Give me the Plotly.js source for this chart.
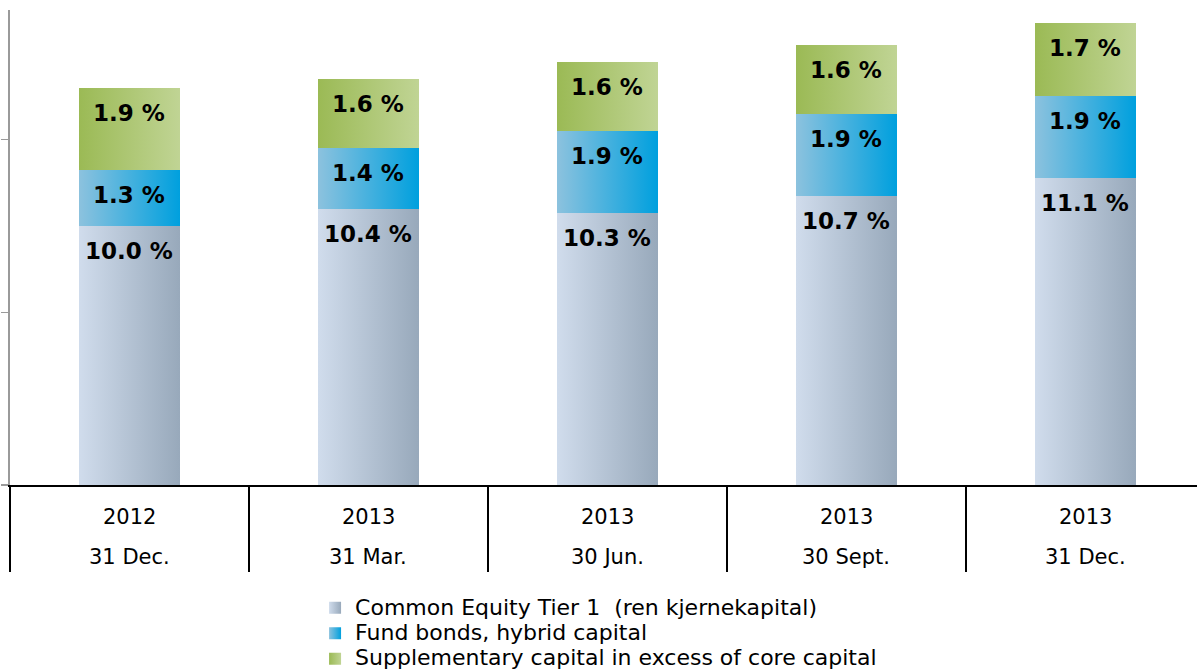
<!DOCTYPE html>
<html>
<head>
<meta charset="utf-8">
<script src="https://cdn.plot.ly/plotly-3.0.1.min.js"></script>
<style>
html,body{margin:0;padding:0;background:#fff;}
#chart{width:1197px;height:672px;}
</style>
</head>
<body>
<div id="chart"></div>
<script>
// ---- data ----
const periods = ["2012<br>31 Dec.", "2013<br>31 Mar.", "2013<br>30 Jun.", "2013<br>30 Sept.", "2013<br>31 Dec."];
const yearLabels = ["2012", "2013", "2013", "2013", "2013"];
const dateLabels = ["31 Dec.", "31 Mar.", "30 Jun.", "30 Sept.", "31 Dec."];
const seriesNames = ["Common Equity Tier 1  (ren kjernekapital)", "Fund bonds, hybrid capital", "Supplementary capital in excess of core capital"];
const cet1 = [10.0, 10.4, 10.3, 10.7, 11.1];
const fundBonds = [1.3, 1.4, 1.9, 1.9, 1.9];
const supplementary = [1.9, 1.6, 1.6, 1.6, 1.7];

const seriesValues = [cet1, fundBonds, supplementary];
const solidColors = ["#b5c3d3", "#4fb0dc", "#adc670"];
const gradStops = [["#d0dcec", "#98a9bb"], ["#8cc2de", "#00a0de"], ["#9bba55", "#c0d494"]];

const font = "DejaVu Sans, Verdana, sans-serif";

const traces = seriesValues.map((vals, i) => ({
  type: "bar",
  name: '<span style="font-size:22px">' + seriesNames[i].replace(/  /g, " &nbsp;") + '</span>',
  x: periods,
  y: vals,
  marker: {color: solidColors[i], line: {width: 0}},
  hoverinfo: "skip"
}));

// value labels placed just below the top of each segment
const annotations = [];
const cum = periods.map(() => 0);
seriesValues.forEach((vals) => {
  vals.forEach((v, j) => {
    cum[j] += v;
    annotations.push({
      x: periods[j], y: cum[j], xref: "x", yref: "y",
      text: v.toFixed(1) + " %", showarrow: false,
      yanchor: "middle", yshift: -25,
      font: {family: font, size: 23, color: "#000", weight: "bold"}
    });
  });
});
periods.forEach((p, j) => {
  annotations.push({x: p, y: -0.067, xref: "x", yref: "paper", text: yearLabels[j], showarrow: false,
    yanchor: "middle", font: {family: font, size: 21, color: "#000"}});
  annotations.push({x: p, y: -0.152, xref: "x", yref: "paper", text: dateLabels[j], showarrow: false,
    yanchor: "middle", font: {family: font, size: 21, color: "#000"}});
});

const layout = {
  width: 1197, height: 672,
  margin: {l: 10, r: 0, t: 10, b: 187, pad: 0},
  paper_bgcolor: "#fff", plot_bgcolor: "#fff",
  barmode: "stack",
  bargap: 0.58,
  font: {family: font, color: "#000"},
  showlegend: true,
  legend: {
    orientation: "v", x: 0.257, xanchor: "left", xref: "paper",
    y: 0.122, yanchor: "top", yref: "container",
    traceorder: "normal", font: {family: font, size: 17.3, color: "#000"},
    bgcolor: "rgba(0,0,0,0)", itemclick: false
  },
  xaxis: {
    type: "category", range: [-0.5, 4.467], fixedrange: true, automargin: false,
    showline: true, linecolor: "#000", linewidth: 1.5,
    ticks: "outside", tickson: "boundaries", ticklen: 85, tickcolor: "#000", tickwidth: 1.5,
    showticklabels: false, showgrid: false, zeroline: false
  },
  yaxis: {
    range: [4, 15], fixedrange: true, automargin: false,
    showline: true, linecolor: "#9a9a9a", linewidth: 2,
    ticks: "outside", tick0: 0, dtick: 4, ticklen: 7, tickcolor: "#9a9a9a", tickwidth: 1.5,
    showticklabels: false, showgrid: false, zeroline: false
  },
  annotations: annotations
};

Plotly.newPlot("chart", traces, layout, {staticPlot: true, displayModeBar: false}).then(gd => {
  const NS = "http://www.w3.org/2000/svg";
  const svg = gd.querySelector("svg.main-svg");
  const defs = document.createElementNS(NS, "defs");
  gradStops.forEach((st, i) => {
    const g = document.createElementNS(NS, "linearGradient");
    g.setAttribute("id", "barGrad" + i);
    g.setAttribute("x1", "0"); g.setAttribute("y1", "0");
    g.setAttribute("x2", "1"); g.setAttribute("y2", "0");
    [[0, st[0]], [1, st[1]]].forEach(([o, c]) => {
      const s = document.createElementNS(NS, "stop");
      s.setAttribute("offset", o);
      s.setAttribute("stop-color", c);
      g.appendChild(s);
    });
    defs.appendChild(g);
  });
  svg.insertBefore(defs, svg.firstChild);
  gd.querySelectorAll(".barlayer .trace").forEach((t, i) => {
    t.querySelectorAll("path").forEach(p => { p.style.fill = "url(#barGrad" + i + ")"; });
  });
  gd.querySelectorAll(".legend .traces").forEach((t, i) => {
    t.querySelectorAll(".legendpoints path").forEach(p => { p.style.fill = "url(#barGrad" + i + ")"; });
  });
});
</script>
</body>
</html>
